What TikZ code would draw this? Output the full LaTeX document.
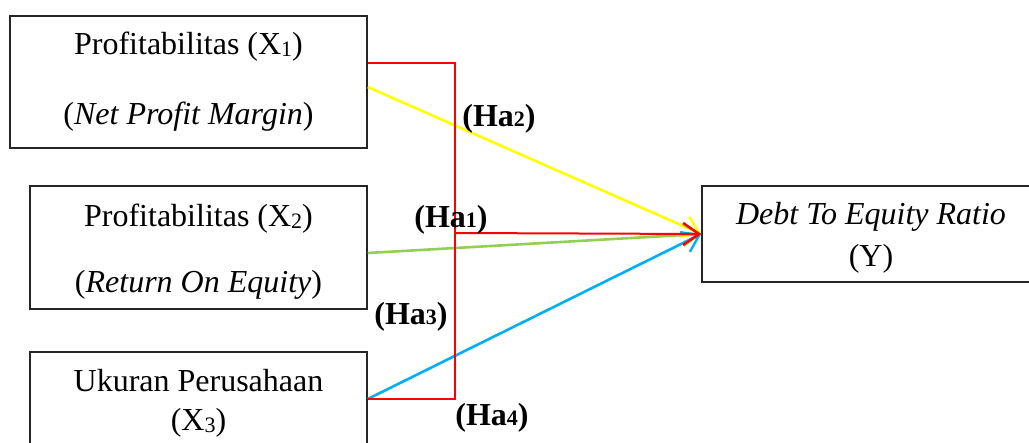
\documentclass[tikz,border=0pt]{standalone}
\usepackage{fontspec}
\setmainfont{Liberation Serif}
\usetikzlibrary{arrows.meta}
\definecolor{linered}{RGB}{255,0,0}
\definecolor{lineyellow}{RGB}{255,255,0}
\definecolor{linegreen}{RGB}{146,208,80}
\definecolor{lineblue}{RGB}{0,176,240}
\newcommand\xsub[1]{\raisebox{-1pt}{\fontsize{11}{11}\selectfont #1}}
\newcommand\hsub[1]{{\fontsize{11}{11}\selectfont #1}}
\tikzset{
  box/.style={draw=black!85, line width=0.75pt, inner sep=0pt},
  txt/.style={anchor=base, inner sep=0pt, font=\fontsize{16}{19}\selectfont},
  lbl/.style={anchor=base, inner sep=0pt, font=\fontsize{16}{19}\selectfont\bfseries},
  arr/.style={-{Straight Barb[length=8pt,width=11pt,line width=1.2pt]}},
  redline/.style={draw=linered, line width=1pt},
  yelline/.style={draw=lineyellow, line width=1.3pt},
  grnline/.style={draw=linegreen, line width=1.3pt},
  bluline/.style={draw=lineblue, line width=1.3pt},
}
\begin{document}
\begin{tikzpicture}[x=0.5pt,y=-0.5pt]
\clip (0,0) rectangle (1029,443);
\fill[white] (0,0) rectangle (1029,443);
% boxes
\node[box, minimum width=178.5pt, minimum height=66pt] (b1) at (188.5,82) {};
\node[box, minimum width=168.5pt, minimum height=61.5pt] (b2) at (198.5,247.5) {};
\node[box, minimum width=168.5pt, minimum height=62pt] (b3) at (198.5,414) {};
\node[box, minimum width=169pt, minimum height=48pt] (yb) at (871,234) {};
% texts
\node[txt] (t1a) at (188.5,55) {Profitabilitas (X\xsub{1})};
\node[txt] (t1b) at (188.5,125) {(\textit{Net Profit Margin})};
\node[txt] (t2a) at (198.5,227) {Profitabilitas (X\xsub{2})};
\node[txt] (t2b) at (198.5,293) {(\textit{Return On Equity})};
\node[txt] (t3a) at (198.5,392) {Ukuran Perusahaan};
\node[txt] (t3b) at (198.5,430) {(X\xsub{3})};
\node[txt] (tya) at (871,225) {\textit{Debt To Equity Ratio}};
\node[txt] (tyb) at (871,267) {(Y)};
% coordinates of the red bracket
\coordinate (rt) at (455,63);
\coordinate (rm) at (455,233);
\coordinate (rb) at (455,399);
% connectors
\draw[yelline, arr] ([yshift=-2.5pt]b1.east) -- (yb.west);
\draw[grnline, arr] ([yshift=-2.75pt]b2.east) -- (yb.west);
\draw[bluline, arr] (b3.east |- rb) -- (yb.west);
\draw[redline] (b1.east |- rt) -- (rt) -- (rb) -- (b3.east |- rb);
\draw[redline, arr] (rm) -- (yb.west);
% labels
\node[lbl] (h2) at (499,127) {(Ha\hsub{2})};
\node[lbl] (h1) at (451,228) {(Ha\hsub{1})};
\node[lbl] (h3) at (411,325) {(Ha\hsub{3})};
\node[lbl] (h4) at (492,425) {(Ha\hsub{4})};
\end{tikzpicture}
\end{document}
